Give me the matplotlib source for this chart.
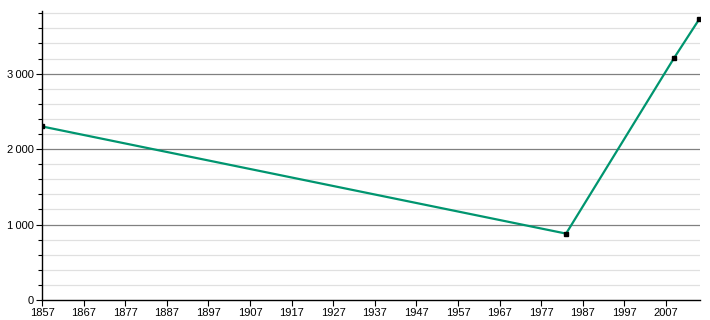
import matplotlib
matplotlib.use("Agg")
import matplotlib.pyplot as plt
from matplotlib.ticker import FixedLocator, MultipleLocator, FuncFormatter

plt.rcParams["font.family"] = ["Liberation Sans", "DejaVu Sans"]

years = [1857, 1983, 2009, 2015]
population = [2300, 880, 3210, 3720]
xticks = list(range(1857, 2008, 10))

fig = plt.figure(figsize=(7.1, 3.2), dpi=100)
ax = fig.add_axes([42 / 710, 20 / 320, 658 / 710, 289 / 320])

ax.set_xlim(1857, 2015.2)
ax.set_ylim(0, 3830)

# grid: light every 200, darker every 1000
for v in range(200, 3900, 200):
    if v % 1000 == 0:
        ax.axhline(v, color="#808080", lw=0.9, zorder=1)
    else:
        ax.axhline(v, color="#e0e0e0", lw=0.9, zorder=1)

ax.plot(years, population, color="#00956f", lw=1.6, zorder=3)
ax.plot(years, population, ls="none", marker="s", ms=3.5, color="black", zorder=4)

ax.xaxis.set_major_locator(FixedLocator(xticks))
ax.yaxis.set_major_locator(MultipleLocator(1000))
ax.yaxis.set_minor_locator(MultipleLocator(200))
ax.yaxis.set_major_formatter(FuncFormatter(lambda v, p: f"{int(v):,}".replace(",", "\u2009") if v else "0"))

for s in ("top", "right"):
    ax.spines[s].set_visible(False)
ax.spines["left"].set_linewidth(1.0)
ax.spines["bottom"].set_linewidth(1.0)

ax.tick_params(axis="both", which="major", labelsize=8, length=4, width=0.8, pad=2)
ax.tick_params(axis="y", which="minor", length=3, width=0.8)

fig.savefig("out.png", dpi=100)
